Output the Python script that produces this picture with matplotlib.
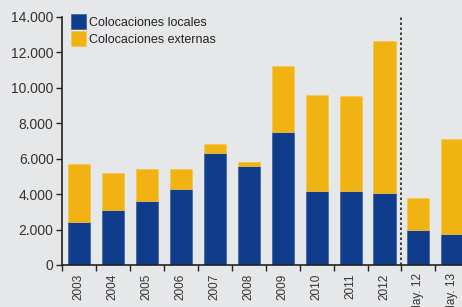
import matplotlib.pyplot as plt
import numpy as np

plt.rcParams['font.family'] = ['Liberation Sans Narrow', 'Liberation Sans', 'DejaVu Sans']

# datos (millones)
categorias = ['2003', '2004', '2005', '2006', '2007', '2008', '2009',
              '2010', '2011', '2012', 'May. 12', 'May. 13']
locales = [2450, 3100, 3600, 4300, 6300, 5600, 7500, 4200, 4200, 4050, 2000, 1750]
totales = [5700, 5200, 5400, 5400, 6800, 5800, 11200, 9600, 9550, 12650, 3800, 7100]
externas = [t - l for t, l in zip(totales, locales)]

azul = '#0F3C8B'
amarillo = '#F0B312'
fondo = '#E6E7E9'

fig = plt.figure(figsize=(4.62, 3.07), dpi=100, facecolor=fondo)
ax = fig.add_axes([0.134, 0.137, 0.882, 0.808], facecolor=fondo)

x = np.arange(len(categorias))
ax.bar(x, locales, width=0.65, color=azul, edgecolor='#3A5FA0', linewidth=0.5,
       label='Colocaciones locales')
ax.bar(x, externas, bottom=locales, width=0.65, color=amarillo, edgecolor='#F4C64A',
       linewidth=0.5, label='Colocaciones externas')

# separador entre anual y mensual
ax.axvline(9.5, color='#222222', linestyle=(0, (1.5, 1.5)), linewidth=1.2, ymin=0, ymax=1.0)

ax.set_xlim(-0.5, len(categorias) - 0.5)
ax.set_ylim(0, 14000)
ax.set_yticks(np.arange(0, 14001, 2000))
ax.set_yticklabels(['0' if v == 0 else f'{v:,}'.replace(',', '.') for v in range(0, 14001, 2000)])
ax.set_xticks(x)
ax.set_xticklabels(categorias, rotation=90)
ax.set_xticks(np.arange(-0.5, len(categorias), 1), minor=True)
ax.tick_params(axis='x', which='major', length=0, pad=6, labelsize=8.5, colors='#333333')
ax.tick_params(axis='x', which='minor', length=4, width=1, direction='out', color='#222222')
ax.tick_params(axis='y', length=4, width=1, direction='out', labelsize=10,
               colors='#333333', pad=2)
ax.tick_params(axis='y', color='#222222')

for s in ['top', 'right']:
    ax.spines[s].set_visible(False)
for s in ['left', 'bottom']:
    ax.spines[s].set_color('#222222')
    ax.spines[s].set_linewidth(1.2)

ax.legend(loc='upper left', bbox_to_anchor=(0.0, 1.045), frameon=False, fontsize=9,
          handlelength=1.2, handleheight=1.4, handletextpad=0.25, labelspacing=0.2,
          borderaxespad=0.3, labelcolor='#222222')

fig.savefig('out.png', dpi=100, facecolor=fondo)
